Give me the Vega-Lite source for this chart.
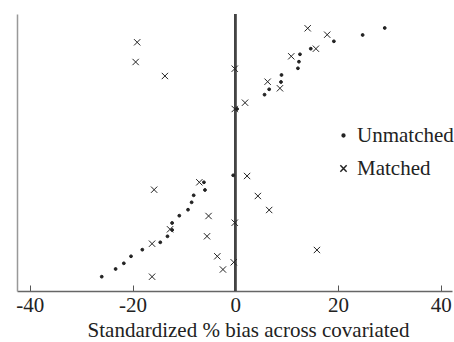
{
  "$schema": "https://vega.github.io/schema/vega-lite/v6.json",
  "width": 435,
  "height": 277,
  "autosize": {"type": "none"},
  "padding": {"left": 17, "top": 14, "right": 2, "bottom": 51},
  "background": "white",
  "config": {
    "view": {"stroke": null},
    "font": "Liberation Serif",
    "axis": {"labelFont": "Liberation Serif", "titleFont": "Liberation Serif", "grid": false},
    "legend": {"labelFont": "Liberation Serif"}
  },
  "data": {
    "values": [
      {"bias": 29.1, "row": 263, "group": "Unmatched"},
      {"bias": 24.8, "row": 256, "group": "Unmatched"},
      {"bias": 19.2, "row": 249.7, "group": "Unmatched"},
      {"bias": 14.7, "row": 242.3, "group": "Unmatched"},
      {"bias": 12.6, "row": 236.7, "group": "Unmatched"},
      {"bias": 12.4, "row": 229.3, "group": "Unmatched"},
      {"bias": 12.2, "row": 222.7, "group": "Unmatched"},
      {"bias": 9.0, "row": 216, "group": "Unmatched"},
      {"bias": 8.9, "row": 209, "group": "Unmatched"},
      {"bias": 6.6, "row": 201.7, "group": "Unmatched"},
      {"bias": 5.7, "row": 196.3, "group": "Unmatched"},
      {"bias": 0.35, "row": 182, "group": "Unmatched"},
      {"bias": -0.4, "row": 115.7, "group": "Unmatched"},
      {"bias": -5.9, "row": 101, "group": "Unmatched"},
      {"bias": -6.1, "row": 108.7, "group": "Unmatched"},
      {"bias": -8.1, "row": 95.7, "group": "Unmatched"},
      {"bias": -8.5, "row": 88.7, "group": "Unmatched"},
      {"bias": -9.2, "row": 81.3, "group": "Unmatched"},
      {"bias": -10.9, "row": 75.3, "group": "Unmatched"},
      {"bias": -12.3, "row": 68, "group": "Unmatched"},
      {"bias": -12.3, "row": 61, "group": "Unmatched"},
      {"bias": -13.2, "row": 54.7, "group": "Unmatched"},
      {"bias": -14.6, "row": 48.7, "group": "Unmatched"},
      {"bias": -18.1, "row": 41.3, "group": "Unmatched"},
      {"bias": -20.3, "row": 34.7, "group": "Unmatched"},
      {"bias": -21.7, "row": 27.7, "group": "Unmatched"},
      {"bias": -23.3, "row": 22, "group": "Unmatched"},
      {"bias": -26.0, "row": 14.3, "group": "Unmatched"},
      {"bias": 14.1, "row": 262.7, "group": "Matched"},
      {"bias": 17.9, "row": 256.3, "group": "Matched"},
      {"bias": 15.7, "row": 242.3, "group": "Matched"},
      {"bias": 10.9, "row": 234.7, "group": "Matched"},
      {"bias": 6.3, "row": 209.3, "group": "Matched"},
      {"bias": 8.7, "row": 202.7, "group": "Matched"},
      {"bias": 1.9, "row": 188.3, "group": "Matched"},
      {"bias": -0.1, "row": 182, "group": "Matched"},
      {"bias": -0.1, "row": 222.3, "group": "Matched"},
      {"bias": -19.1, "row": 248.7, "group": "Matched"},
      {"bias": -19.4, "row": 229, "group": "Matched"},
      {"bias": -13.7, "row": 215, "group": "Matched"},
      {"bias": -15.8, "row": 101.3, "group": "Matched"},
      {"bias": -7.0, "row": 108.7, "group": "Matched"},
      {"bias": -5.2, "row": 75, "group": "Matched"},
      {"bias": -12.7, "row": 61.7, "group": "Matched"},
      {"bias": -5.5, "row": 54.7, "group": "Matched"},
      {"bias": -16.2, "row": 47.3, "group": "Matched"},
      {"bias": -3.5, "row": 34.7, "group": "Matched"},
      {"bias": -2.4, "row": 21.5, "group": "Matched"},
      {"bias": -16.2, "row": 14.3, "group": "Matched"},
      {"bias": 2.3, "row": 115, "group": "Matched"},
      {"bias": 4.4, "row": 95, "group": "Matched"},
      {"bias": 6.6, "row": 81, "group": "Matched"},
      {"bias": -0.1, "row": 68.3, "group": "Matched"},
      {"bias": 15.9, "row": 41, "group": "Matched"},
      {"bias": -0.3, "row": 28.7, "group": "Matched"}
    ]
  },
  "layer": [
    {
      "mark": {"type": "rule", "color": "#444", "strokeWidth": 1.5},
      "encoding": {"x": {"datum": 0, "type": "quantitative"}}
    },
    {
      "mark": {"type": "point", "filled": true, "strokeWidth": 1, "opacity": 1, "stroke": "#222", "fill": "#222"},
      "encoding": {
        "x": {
          "field": "bias", "type": "quantitative",
          "scale": {"domain": [-42.5, 42.2], "nice": false, "zero": false},
          "axis": {
            "title": "Standardized % bias across covariated",
            "values": [-40, -20, 0, 20, 40],
            "labelExpr": "replace(datum.label, '−', '-')",
            "tickSize": -6,
            "tickColor": "#555",
            "domainColor": "#666",
            "domainWidth": 1.5,
            "labelFontSize": 21,
            "labelColor": "#222",
            "labelPadding": 9,
            "titleFontSize": 21,
            "titleFontWeight": "normal",
            "titleColor": "#222",
            "titlePadding": 4,
            "titleX": 231,
            "titleAnchor": "middle"
          }
        },
        "y": {
          "field": "row", "type": "quantitative",
          "scale": {"domain": [0, 277], "nice": false, "zero": false},
          "axis": {"title": null, "labels": false, "ticks": false, "domainColor": "#999", "domainWidth": 1.5}
        },
        "shape": {
          "field": "group", "type": "nominal",
          "scale": {"domain": ["Unmatched", "Matched"], "range": ["circle", "M-1,-1L1,1M1,-1L-1,1"]},
          "legend": {
            "title": null,
            "orient": "none",
            "legendX": 316,
            "legendY": 111,
            "labelFontSize": 21,
            "labelColor": "#222",
            "rowPadding": 11,
            "labelOffset": 3
          }
        },
        "size": {
          "field": "group", "type": "nominal",
          "scale": {"domain": ["Unmatched", "Matched"], "range": [8, 40]}
        }
      }
    }
  ]
}
